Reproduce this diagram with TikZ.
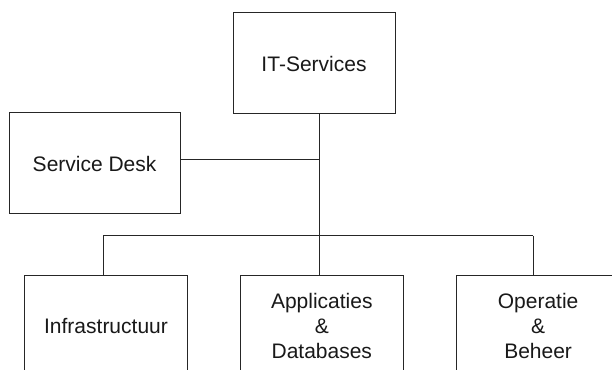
\documentclass[tikz,border=0pt]{standalone}
\usepackage{fontspec}
\setmainfont{Liberation Sans}
\begin{document}
\begin{tikzpicture}[x=1pt,y=1pt,
  box/.style={draw=black!85, line width=1pt, inner sep=0pt, align=center,
    font=\fontsize{21}{25}\selectfont, text=black!90},
  link/.style={draw=black!85, line width=1pt}]
\useasboundingbox (0,0) rectangle (612,369);
\clip (0,0) rectangle (612,369);
\fill[white] (0,0) rectangle (612,369);
\node[box, minimum width=162pt, minimum height=101pt] (it) at (314,305.5) {IT-Services};
\node[box, minimum width=171pt, minimum height=101pt] (sd) at (94.6,205.5) {Service Desk};
\node[box, minimum width=162.7pt, minimum height=101pt] (inf) at (106,43.2) {Infrastructuur};
\node[box, minimum width=162.8pt, minimum height=101pt] (app) at (321.8,43.2) {Applicaties\\\&\\Databases};
\node[box, minimum width=162.8pt, minimum height=101pt] (op) at (538.1,43.2) {Operatie\\\&\\Beheer};
\coordinate (trunk) at (319.3,133);
\coordinate (sdj) at (319.3,209);
\coordinate (bl) at (103,133);
\coordinate (br) at (533.2,133);
\draw[link] (it.south -| trunk) -- (app.north -| trunk);
\draw[link] (sd.east |- sdj) -- (sdj);
\draw[link] (bl) -- (br);
\draw[link] (bl) -- (inf.north -| bl);
\draw[link] (br) -- (op.north -| br);
\end{tikzpicture}
\end{document}
